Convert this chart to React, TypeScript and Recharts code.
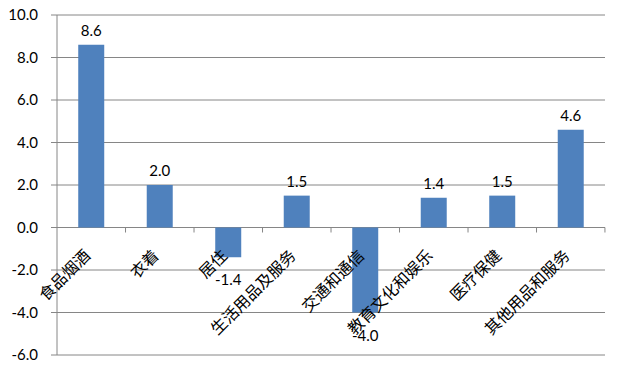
import { Bar, BarChart, CartesianGrid, LabelList, XAxis, YAxis } from "recharts";

const categories = [
  "食品烟酒",
  "衣着",
  "居住",
  "生活用品及服务",
  "交通和通信",
  "教育文化和娱乐",
  "医疗保健",
  "其他用品和服务",
];
const values = [8.6, 2.0, -1.4, 1.5, -4.0, 1.4, 1.5, 4.6];
const yTicks = [-6, -4, -2, 0, 2, 4, 6, 8, 10];

const data = categories.map((name, i) => ({ name, value: values[i] }));

const GAP = 0.31;
const BLUE = "#4F81BD";
const GRID = "#868686";
const NUM_FONT = "Lato, 'Liberation Sans', sans-serif";
const CJK_FONT = "'Noto Sans CJK SC', sans-serif";

function box(props: any) {
  const vb = props.viewBox ?? props;
  const x = Number(vb.x);
  const y = Number(vb.y);
  const w = Number(vb.width);
  const h = Number(vb.height);
  return { x, w, top: Math.min(y, y + h), bottom: Math.max(y, y + h) };
}

// category names sit on the zero line, rotated like Excel does it
function CategoryLabel(props: any) {
  const { index, value } = props;
  const { x, w, top, bottom } = box(props);
  const base = values[index] >= 0 ? bottom : top;
  const cx = x + w / 2;
  const band = w / (1 - 2 * GAP);
  const left = cx - band / 2;
  const right = cx + band / 2;
  const tx = cx - 3;
  const ty = base + 26;
  return (
    <g>
      {index > 0 && <line x1={left} x2={left} y1={base} y2={base + 5} stroke={GRID} />}
      {index === categories.length - 1 && (
        <line x1={right} x2={right} y1={base} y2={base + 5} stroke={GRID} />
      )}
      <text
        x={tx}
        y={ty}
        transform={`rotate(-45 ${tx} ${ty})`}
        textAnchor="end"
        dominantBaseline="middle"
        fontFamily={CJK_FONT}
        fontSize={16}
        fill="#000"
      >
        {value}
      </text>
    </g>
  );
}

function ValueLabel(props: any) {
  const { index } = props;
  const { x, w, top, bottom } = box(props);
  const v = values[index];
  const ty = v >= 0 ? top - 9 : bottom + 28;
  return (
    <text
      x={x + w / 2}
      y={ty}
      textAnchor="middle"
      fontFamily={NUM_FONT}
      fontSize={15}
      fill="#000"
    >
      {v.toFixed(1)}
    </text>
  );
}

export default function App() {
  return (
    <div style={{ position: "absolute", left: 0, top: 0, background: "#fff" }}>
      <BarChart
        width={624}
        height={374}
        data={data}
        margin={{ top: 15, right: 19, bottom: 19, left: 0 }}
        barCategoryGap={`${GAP * 100}%`}
      >
        <CartesianGrid vertical={false} stroke={GRID} />
        <XAxis dataKey="name" hide />
        <YAxis
          width={57}
          domain={[-6, 10]}
          ticks={yTicks}
          interval={0}
          tickFormatter={(v: number) => v.toFixed(1)}
          axisLine={{ stroke: GRID }}
          tickLine={{ stroke: GRID }}
          tickSize={6}
          tickMargin={13}
          tick={{ fill: "#000", fontSize: 15, fontFamily: NUM_FONT }}
        />
        <Bar dataKey="value" fill={BLUE} isAnimationActive={false}>
          <LabelList dataKey="name" content={<CategoryLabel />} />
          <LabelList dataKey="value" content={<ValueLabel />} />
        </Bar>
      </BarChart>
    </div>
  );
}
